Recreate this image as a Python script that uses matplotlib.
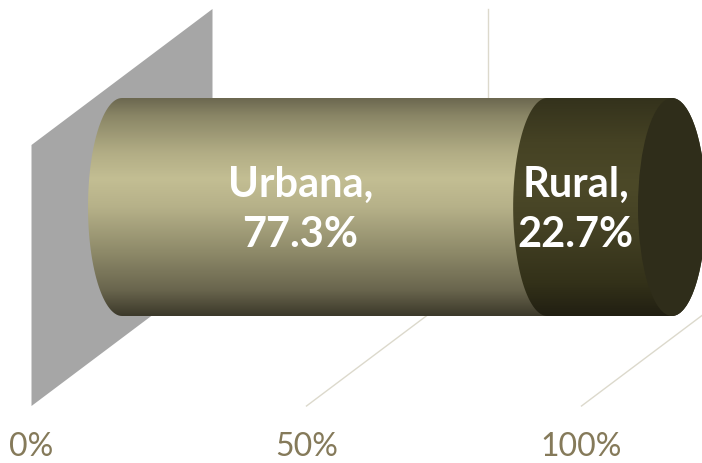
import numpy as np
import matplotlib
matplotlib.use("Agg")
import matplotlib.pyplot as plt
from matplotlib.path import Path
from matplotlib.patches import PathPatch, Polygon, Ellipse
from matplotlib.colors import LinearSegmentedColormap

# Data
categories = ["Urbana", "Rural"]
values = [77.3, 22.7]
tick_values = [0, 50, 100]
tick_labels = ["0%", "50%", "100%"]

# Layout (x in percent units, y in pixels from the top)
px_per_pct = 5.5
x_lo, x_hi = -122 / px_per_pct, (702 - 122) / px_per_pct
depth_dx = 90.5 / px_per_pct      # half depth, horizontal
depth_dy = 68                     # half depth, vertical
floor_y, top_y = 339, 78          # floor / wall top at mid depth
cy, rb = 208, 109                 # cylinder centre and vertical radius
ra = 34 / px_per_pct              # cylinder horizontal radius

seg_cmaps = [
    LinearSegmentedColormap.from_list("urb", [
        (0.0, "#6c6850"), (0.08, "#8a8666"), (0.25, "#b2ad85"),
        (0.37, "#c3be93"), (0.5, "#b6b189"), (0.7, "#8f8b6a"),
        (0.88, "#6a664e"), (1.0, "#3c392a")]),
    LinearSegmentedColormap.from_list("rur", [
        (0.0, "#34321c"), (0.2, "#454224"), (0.4, "#4c4928"),
        (0.6, "#444124"), (0.85, "#333119"), (1.0, "#211f12")]),
]

fig = plt.figure(figsize=(7.02, 4.64), dpi=100, facecolor="white")
ax = fig.add_axes([0, 0, 1, 1])

# Side wall at 0%
wall = Polygon([
    (0 - depth_dx, floor_y + depth_dy), (0 - depth_dx, top_y + depth_dy),
    (0 + depth_dx, top_y - depth_dy), (0 + depth_dx, floor_y - depth_dy)],
    closed=True, facecolor="#a6a6a6", edgecolor="none", zorder=1)
ax.add_patch(wall)

# Gridlines (floor diagonal + back wall vertical)
for t in tick_values[1:]:
    ax.plot([t - depth_dx, t + depth_dx], [floor_y + depth_dy, floor_y - depth_dy],
            color="#dcd9cc", lw=1, zorder=2)
    ax.plot([t + depth_dx, t + depth_dx], [floor_y - depth_dy, top_y - depth_dy],
            color="#dcd9cc", lw=1, zorder=2)

# Tick labels on the front edge
for t, lab in zip(tick_values, tick_labels):
    ax.text(t - depth_dx, 447, lab, ha="center", va="center", fontsize=23,
            family="Lato", color="#857a5a")


def body_path(xs, xe):
    t1 = np.linspace(np.pi / 2, 3 * np.pi / 2, 60)
    left = np.column_stack([xs + ra * np.cos(t1), cy - rb * np.sin(t1)])
    t2 = np.linspace(-np.pi / 2, np.pi / 2, 60)
    right = np.column_stack([xe + ra * np.cos(t2), cy - rb * np.sin(t2)])
    pts = np.vstack([left, right, left[:1]])
    return Path(pts, closed=True)


# Cylinder segments
start = 0
for i, (cat, v) in enumerate(zip(categories, values)):
    xs, xe = start, start + v
    patch = PathPatch(body_path(xs, xe), facecolor="none", edgecolor="none",
                      transform=ax.transData)
    ax.add_patch(patch)
    grad = np.linspace(0, 1, 256).reshape(-1, 1)
    im = ax.imshow(grad, cmap=seg_cmaps[i], aspect="auto",
                   extent=(xs - ra, xe + ra, cy + rb, cy - rb),
                   interpolation="bilinear", zorder=3 + i)
    im.set_clip_path(patch)
    ax.text((xs + xe) / 2 - ra, cy + 2, f"{cat},\n{v:.1f}%", ha="center", va="center",
            fontsize=30, fontweight="bold", family="Lato", color="white",
            linespacing=1.4, zorder=10)
    start = xe

# End face
face = Ellipse((start, cy), 2 * ra, 2 * rb, facecolor="#2f2d1a",
               edgecolor="none", zorder=6)
ax.add_patch(face)

ax.set_xlim(x_lo, x_hi)
ax.set_ylim(464, 0)
ax.axis("off")
fig.savefig("out.png", dpi=100, facecolor="white")
